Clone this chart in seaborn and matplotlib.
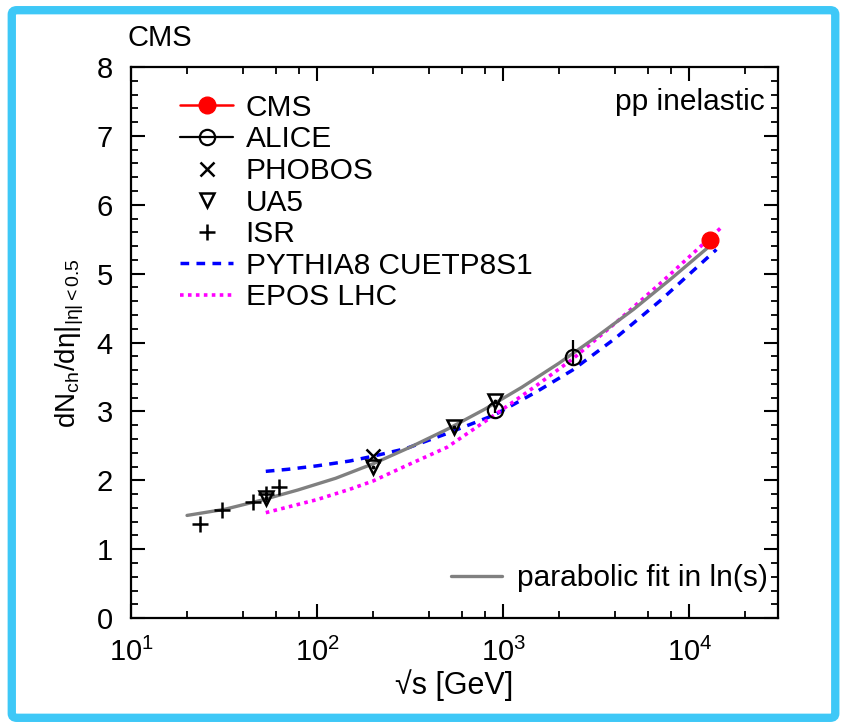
"""dN/deta at mid-rapidity vs sqrt(s) — pp inelastic, CMS comparison."""
import matplotlib
matplotlib.use("Agg")
import matplotlib.pyplot as plt
import matplotlib.ticker as mticker
from matplotlib.lines import Line2D
from matplotlib.patches import FancyBboxPatch
import pandas as pd
import seaborn as sns

# ── data ──────────────────────────────────────────────────────────────────
cms_e, cms_y = [13000], [5.49]
alice_e = [900, 2360]
alice_y = [3.02, 3.79]
alice_err_lo = [0.05, 0.12]
alice_err_hi = [0.05, 0.24]
phobos_e, phobos_y = [200], [2.35]
ua5_e = [53, 200, 546, 900]
ua5_y = [1.75, 2.19, 2.78, 3.15]
isr_e = [23.6, 30.8, 45.2, 53, 62.2]
isr_y = [1.37, 1.57, 1.68, 1.80, 1.90]

fit_e = [20, 32, 50, 79, 126, 200, 316, 500, 794, 1259, 1995, 3162, 5012, 7943, 13000]
fit_y = [1.49, 1.58, 1.71, 1.86, 2.03, 2.24, 2.48, 2.74, 3.03, 3.35, 3.70, 4.08, 4.48, 4.92, 5.41]

pythia_e = [53, 70, 100, 150, 200, 300, 500, 900, 1500, 2360, 4000, 7000, 14000]
pythia_y = [2.13, 2.16, 2.21, 2.28, 2.35, 2.46, 2.68, 2.95, 3.28, 3.60, 4.06, 4.61, 5.35]

epos_e = [53, 100, 150, 200, 300, 500, 900, 1500, 2360, 4000, 7000, 15000]
epos_y = [1.53, 1.72, 1.87, 1.99, 2.21, 2.48, 2.95, 3.37, 3.76, 4.28, 4.86, 5.68]

FONT = ["Liberation Sans", "DejaVu Sans"]
TXT = 21.5
sns.set_theme(style="ticks")
plt.rcParams.update({
    "font.family": FONT,
    "mathtext.fontset": "custom",
    "mathtext.rm": "Liberation Sans",
    "mathtext.it": "Liberation Sans:italic",
    "mathtext.sf": "Liberation Sans",
    "font.size": TXT,
    "text.color": "black",
    "axes.labelcolor": "black",
    "axes.edgecolor": "black",
    "xtick.color": "black", "ytick.color": "black",
    "axes.linewidth": 1.6,
    "xtick.direction": "in", "ytick.direction": "in",
    "xtick.top": True, "ytick.right": True,
    "xtick.major.size": 10, "ytick.major.size": 10,
    "xtick.minor.size": 5, "ytick.minor.size": 5,
    "xtick.major.width": 1.5, "ytick.major.width": 1.5,
    "xtick.minor.width": 1.3, "ytick.minor.width": 1.3,
    "xtick.major.pad": 14, "ytick.major.pad": 13,
    "xtick.labelsize": 21, "ytick.labelsize": 21,
})

fig = plt.figure(figsize=(8.42, 7.28), dpi=100)
ax = fig.add_axes([0.1556, 0.151, 0.7684, 0.757])

PY_LS = (0, (2.5, 2.1))
EP_LS = (0, (1.0, 1.2))

# ── curves ────────────────────────────────────────────────────────────────
fit_df = pd.DataFrame({"e": fit_e, "y": fit_y})
py_df = pd.DataFrame({"e": pythia_e, "y": pythia_y})
ep_df = pd.DataFrame({"e": epos_e, "y": epos_y})

sns.lineplot(data=py_df, x="e", y="y", ax=ax, color="#0000ff", lw=2.5,
             linestyle=PY_LS, sort=False, zorder=2)
sns.lineplot(data=ep_df, x="e", y="y", ax=ax, color="#ff00ff", lw=2.6,
             linestyle=EP_LS, sort=False, zorder=2)
sns.lineplot(data=fit_df, x="e", y="y", ax=ax, color="#808080", lw=2.4,
             sort=False, zorder=3)

# ── data points ───────────────────────────────────────────────────────────
ax.plot(isr_e, isr_y, ls="none", marker="+", ms=12, mew=1.8, color="black", zorder=4)
ax.plot(ua5_e, ua5_y, ls="none", marker="v", ms=10, mew=1.8, mfc="none",
        mec="black", zorder=4)
ax.plot(ua5_e, ua5_y, ls="none", marker="o", ms=1.8, color="black", zorder=4)
ax.plot(phobos_e, phobos_y, ls="none", marker="x", ms=10, mew=1.8, color="black", zorder=4)
ax.errorbar(alice_e, alice_y, yerr=[alice_err_lo, alice_err_hi], fmt="o",
            ms=11, mew=1.6, mfc="none", mec="black", ecolor="black",
            elinewidth=1.6, capsize=0, zorder=4)
ax.plot(cms_e, cms_y, ls="none", marker="o", ms=12, color="#ff0000", zorder=5)

# ── axes ──────────────────────────────────────────────────────────────────
ax.set_xscale("log")
ax.set_xlim(10, 3e4)
ax.set_ylim(0, 8)
ax.xaxis.set_major_locator(mticker.LogLocator(base=10, numticks=10))
ax.xaxis.set_minor_locator(mticker.LogLocator(base=10, subs=[2, 4, 6, 8], numticks=20))
ax.xaxis.set_minor_formatter(mticker.NullFormatter())
ax.yaxis.set_major_locator(mticker.MultipleLocator(1))
ax.yaxis.set_minor_locator(mticker.MultipleLocator(0.2))
ax.set_xlabel("√s [GeV]", fontsize=22, labelpad=2)
ax.set_ylabel(r"$\mathregular{dN_{ch}/d\eta|_{|\eta| < 0.5}}$", fontsize=20, labelpad=8)

ax.text(0.98, 0.962, "pp inelastic", transform=ax.transAxes, ha="right",
        va="top", fontsize=TXT)
fig.text(0.152, 0.928, "CMS", ha="left", va="bottom", fontsize=21)

# ── legends ───────────────────────────────────────────────────────────────
handles = [
    Line2D([], [], color="#ff0000", lw=1.8, marker="o", ms=12),
    Line2D([], [], color="black", lw=1.6, marker="o", ms=11, mfc="none", mew=1.6),
    Line2D([], [], ls="none", color="black", marker="x", ms=10, mew=1.8),
    Line2D([], [], ls="none", color="black", marker="v", ms=10, mfc="none", mew=1.8),
    Line2D([], [], ls="none", color="black", marker="+", ms=12, mew=1.8),
    Line2D([], [], color="#0000ff", lw=2.5, ls=PY_LS),
    Line2D([], [], color="#ff00ff", lw=2.6, ls=EP_LS),
]
labels = ["CMS", "ALICE", "PHOBOS", "UA5", "ISR", "PYTHIA8 CUETP8S1", "EPOS LHC"]
leg = ax.legend(handles, labels, loc="upper left", bbox_to_anchor=(0.058, 0.973),
                frameon=False, fontsize=TXT, handlelength=1.75, handletextpad=0.43,
                labelspacing=0.12, borderaxespad=0)
ax.add_artist(leg)

fit_handle = [Line2D([], [], color="#808080", lw=2.4)]
ax.legend(fit_handle, ["parabolic fit in ln(s)"], loc="lower right",
          bbox_to_anchor=(1.003, 0.025), frameon=False, fontsize=TXT,
          handlelength=1.7, handletextpad=0.5, borderaxespad=0)

# ── blue frame around the picture ─────────────────────────────────────────
frame = FancyBboxPatch((0.014, 0.014), 0.978, 0.972, transform=fig.transFigure,
                       boxstyle="round,pad=0,rounding_size=0.006",
                       fill=False, edgecolor="#3ec8f7", lw=6, zorder=10)
fig.patches.append(frame)

fig.savefig("out.png", dpi=100, facecolor="white")
